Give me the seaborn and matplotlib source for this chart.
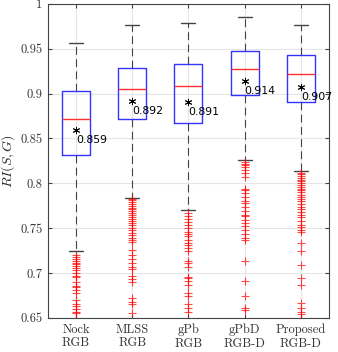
import numpy as np
import pandas as pd
import matplotlib
matplotlib.use('Agg')
import matplotlib.pyplot as plt
import seaborn as sns

# box statistics
methods = ['Nock\nRGB', 'MLSS\nRGB', 'gPb\nRGB', 'gPbD\nRGB-D', 'Proposed\nRGB-D']
q1 = [0.831, 0.872, 0.867, 0.898, 0.891]
med = [0.872, 0.905, 0.908, 0.927, 0.922]
q3 = [0.903, 0.929, 0.933, 0.947, 0.943]
whislo = [0.725, 0.784, 0.770, 0.826, 0.814]
whishi = [0.956, 0.976, 0.979, 0.985, 0.976]
means = [0.859, 0.892, 0.891, 0.914, 0.907]

# outliers per method
out_nock = [0.720, 0.718, 0.716, 0.713, 0.711, 0.710, 0.708, 0.706, 0.703,
            0.700, 0.697, 0.695, 0.690, 0.686, 0.684, 0.681, 0.678, 0.670,
            0.666, 0.663, 0.660, 0.657, 0.655]
out_mlss = [0.783, 0.781, 0.779, 0.777, 0.775, 0.773, 0.771, 0.769, 0.767,
            0.765, 0.762, 0.760, 0.758, 0.756, 0.753, 0.750, 0.748, 0.745,
            0.742, 0.739, 0.737, 0.735, 0.726, 0.720, 0.716, 0.711, 0.707,
            0.704, 0.697, 0.693, 0.690, 0.672, 0.668, 0.665, 0.655]
out_gpb = [0.767, 0.763, 0.760, 0.757, 0.754, 0.750, 0.746, 0.743, 0.741,
           0.737, 0.733, 0.731, 0.728, 0.724, 0.713, 0.711, 0.707, 0.696,
           0.694, 0.691, 0.687, 0.678, 0.674, 0.665, 0.661, 0.656]
out_gpbd = [0.824, 0.822, 0.820, 0.818, 0.815, 0.811, 0.807, 0.794, 0.793,
            0.789, 0.785, 0.780, 0.778, 0.774, 0.769, 0.765, 0.763, 0.759,
            0.756, 0.752, 0.748, 0.743, 0.739, 0.737, 0.713, 0.691, 0.674,
            0.661, 0.659]
out_prop = [0.812, 0.810, 0.808, 0.806, 0.804, 0.802, 0.800, 0.798, 0.796,
            0.794, 0.792, 0.790, 0.787, 0.785, 0.782, 0.780, 0.777, 0.774,
            0.771, 0.768, 0.765, 0.762, 0.758, 0.754, 0.751, 0.748, 0.746,
            0.733, 0.724, 0.709, 0.694, 0.687, 0.667, 0.661, 0.657, 0.654]
outliers = [out_nock, out_mlss, out_gpb, out_gpbd, out_prop]
yticks = [0.65, 0.7, 0.75, 0.8, 0.85, 0.9, 0.95, 1]

sns.set_style('whitegrid')
plt.rcParams['font.family'] = ['cmr10', 'DejaVu Serif']
plt.rcParams['mathtext.fontset'] = 'cm'
plt.rcParams['axes.formatter.use_mathtext'] = True

fig = plt.figure(figsize=(3.38, 3.52), dpi=100)
ax = fig.add_axes([0.142, 0.097, 0.831, 0.892])

positions = np.arange(1, len(methods) + 1)
stats = []
for i in range(len(methods)):
    stats.append({'q1': q1[i], 'med': med[i], 'q3': q3[i],
                  'whislo': whislo[i], 'whishi': whishi[i],
                  'mean': means[i], 'fliers': []})

ax.bxp(stats, positions=positions, widths=0.5, showfliers=False,
       showmeans=False, capwidths=0.25,
       boxprops=dict(color='#3333ff', linewidth=1.0),
       medianprops=dict(color='#ff3030', linewidth=1.0),
       whiskerprops=dict(color='#444444', linewidth=0.8, linestyle=(0, (7, 4))),
       capprops=dict(color='#444444', linewidth=1.0))

rows = []
for i, vals in enumerate(outliers):
    for v in vals:
        rows.append({'pos': positions[i], 'value': v})
df_out = pd.DataFrame(rows)
sns.scatterplot(data=df_out, x='pos', y='value', ax=ax, marker='+',
                color='red', s=40, linewidth=0.8, alpha=0.7, zorder=3)

df_mean = pd.DataFrame({'pos': positions, 'mean': means})
sns.scatterplot(data=df_mean, x='pos', y='mean', ax=ax, marker=(6, 2, 0),
                color='black', s=22, linewidth=0.7, zorder=4)
for p, m in zip(positions, means):
    ax.text(p, m - 0.011, f'{m:.3f}', ha='left', va='center',
            fontsize=7.8, family='DejaVu Sans', color='black', zorder=5)

ax.set_xlim(0.5, len(methods) + 0.5)
ax.set_ylim(0.65, 1.0)
ax.set_xticks(positions)
ax.set_xticklabels(methods, fontsize=9, color='#333333')
ax.set_yticks(yticks)
ax.set_yticklabels([f'{t:g}' for t in yticks], fontsize=9, color='#333333')
ax.set_xlabel('')
ax.set_ylabel(r'$RI(S,G)$', fontsize=10, labelpad=2)
ax.grid(True, color='#e6e6e6', linewidth=0.8)
ax.set_axisbelow(True)
ax.tick_params(direction='in', length=3, color='#444444', pad=4,
               right=True, top=True, left=True, bottom=True)
for s in ax.spines.values():
    s.set_color('#444444')
    s.set_linewidth(0.8)

fig.savefig('out.png', dpi=100)
